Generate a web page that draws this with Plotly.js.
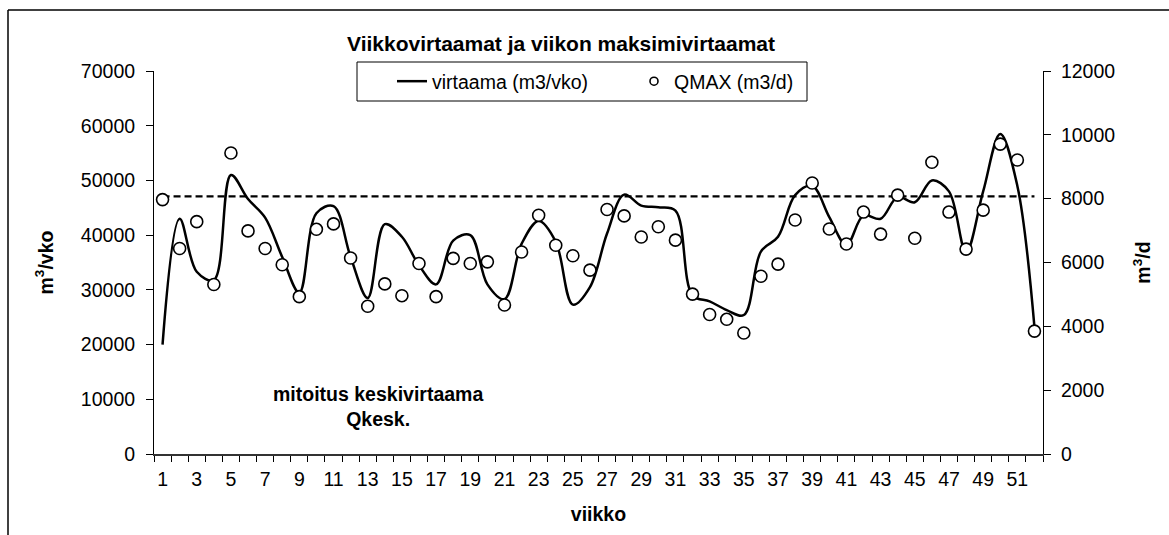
<!DOCTYPE html>
<html>
<head>
<meta charset="utf-8">
<script src="https://cdn.plot.ly/plotly-3.0.1.min.js"></script>
<style>
html, body { margin: 0; padding: 0; background: #ffffff; }
#chart { width: 1169px; height: 535px; }
</style>
</head>
<body>
<div id="chart"></div>
<script>
// ---- data ----
const weeks = [1, 2, 3, 4, 5, 6, 7, 8, 9, 10, 11, 12, 13, 14, 15, 16, 17, 18, 19, 20, 21, 22, 23, 24, 25, 26,
               27, 28, 29, 30, 31, 32, 33, 34, 35, 36, 37, 38, 39, 40, 41, 42, 43, 44, 45, 46, 47, 48, 49, 50, 51, 52];

// weekly flow, m3/vko (left axis)
const virtaama = [20000, 43000, 33300, 31800, 51000, 46600, 43200, 36000, 29500, 44000, 45300, 36000, 28500,
                  42000, 39700, 34500, 31000, 39000, 40000, 31000, 28300, 38400, 42600, 38800, 27300, 30500,
                  40300, 47400, 45400, 45100, 44500, 29000, 27900, 26300, 25400, 37000, 39700, 47300, 49000,
                  43300, 38200, 43600, 43000, 47000, 46000, 50000, 48000, 36900, 48000, 58500, 49000, 23200];

// weekly maximum flow, m3/d (right axis)
const qmax = [7970, 6440, 7280, 5310, 9430, 6990, 6440, 5930, 4930, 7040, 7210, 6140, 4630,
              5330, 4960, 5970, 4930, 6130, 5970, 6020, 4670, 6330, 7480, 6540, 6210, 5760,
              7660, 7460, 6800, 7120, 6700, 5010, 4370, 4220, 3790, 5570, 5950, 7330, 8490,
              7050, 6580, 7580, 6890, 8110, 6760, 9140, 7580, 6420, 7640, 9710, 9210, 3850];

// design mean flow (Qkesk), m3/vko
const qkesk = 47100;

const xTickWeeks = [1, 3, 5, 7, 9, 11, 13, 15, 17, 19, 21, 23, 25, 27, 29, 31, 33, 35, 37, 39, 41, 43, 45, 47, 49, 51];
const leftTicks = [0, 10000, 20000, 30000, 40000, 50000, 60000, 70000];
const rightTicks = [0, 2000, 4000, 6000, 8000, 10000, 12000];

const chartTitle = 'Viikkovirtaamat ja viikon maksimivirtaamat';
const xTitle = 'viikko';
const yTitle = 'm<sup>3</sup>/vko';
const y2Title = 'm<sup>3</sup>/d';
const seriesNames = ['virtaama (m3/vko)', 'QMAX (m3/d)'];
const noteText = 'mitoitus keskivirtaama<br>Qkesk.';

// ---- geometry helpers (pixels -> paper) ----
const W = 1169, H = 535;
const PL = 154, PR = 1043, PT = 71, PB = 454;
const px2x = p => (p - PL) / (PR - PL);
const px2y = p => (PB - p) / (PB - PT);

const FONT = 'Arial, "Liberation Sans", sans-serif';

const weekBoundaries = [weeks[0] - 0.5].concat(weeks.map(w => w + 0.5));

const traces = [
  {
    x: [weeks[0], weeks[weeks.length - 1]],
    y: [qkesk, qkesk],
    type: 'scatter',
    mode: 'lines',
    line: { color: '#000000', width: 2.2, dash: '7px,4px' },
    showlegend: false,
    hoverinfo: 'skip',
    xaxis: 'x', yaxis: 'y'
  },
  {
    x: weeks,
    y: virtaama,
    type: 'scatter',
    mode: 'lines',
    name: seriesNames[0],
    line: { color: '#000000', width: 2.5, shape: 'spline', smoothing: 1 },
    xaxis: 'x', yaxis: 'y'
  },
  {
    x: weeks,
    y: qmax,
    type: 'scatter',
    mode: 'markers',
    name: seriesNames[1],
    showlegend: false,
    marker: { symbol: 'circle', size: 12, color: '#ffffff', line: { color: '#000000', width: 1.6 } },
    xaxis: 'x', yaxis: 'y2'
  },
  {
    // legend swatch only (smaller marker, like the original legend)
    x: [null],
    y: [null],
    type: 'scatter',
    mode: 'markers',
    name: seriesNames[1],
    marker: { symbol: 'circle', size: 8, color: '#ffffff', line: { color: '#000000', width: 1.6 } },
    xaxis: 'x', yaxis: 'y2',
    hoverinfo: 'skip'
  }
];

const layout = {
  width: W,
  height: H,
  margin: { l: PL, r: W - PR, t: PT, b: H - PB, pad: 0 },
  paper_bgcolor: '#ffffff',
  plot_bgcolor: '#ffffff',
  font: { family: FONT, size: 19.5, color: '#000000' },
  showlegend: true,
  title: {
    text: '<b>' + chartTitle + '</b>',
    font: { family: FONT, size: 21, color: '#000000' },
    xref: 'container', x: 561 / W, xanchor: 'center',
    yref: 'container', y: 1 - 44 / H, yanchor: 'middle'
  },
  legend: {
    orientation: 'h',
    x: px2x(392), y: px2y(62), xanchor: 'left', yanchor: 'top',
    bgcolor: 'rgba(0,0,0,0)',
    bordercolor: 'rgba(0,0,0,0)',
    borderwidth: 0,
    font: { family: FONT, size: 19.5, color: '#000000' },
    entrywidth: 197,
    entrywidthmode: 'pixels'
  },
  xaxis: {
    range: [weeks[0] - 0.5, weeks[weeks.length - 1] + 0.5],
    tickmode: 'array',
    tickvals: xTickWeeks,
    ticktext: xTickWeeks.map(String),
    ticks: '',
    ticklen: 0,
    ticklabelstandoff: 7,
    tickfont: { family: FONT, size: 19.5, color: '#000000' },
    showgrid: false,
    zeroline: false,
    showline: true,
    linecolor: '#333333',
    linewidth: 1.5,
    minor: { tickmode: 'array', tickvals: weekBoundaries, ticks: 'outside', ticklen: 6, tickwidth: 1, tickcolor: '#000000', showgrid: false },
    title: { text: '<b>' + xTitle + '</b>', font: { family: FONT, size: 19.5, color: '#000000' }, standoff: 18 },
    fixedrange: true
  },
  yaxis: {
    range: [leftTicks[0], leftTicks[leftTicks.length - 1]],
    tickmode: 'array',
    tickvals: leftTicks,
    ticktext: leftTicks.map(String),
    ticks: 'outside',
    ticklen: 7,
    tickwidth: 1,
    tickcolor: '#000000',
    ticklabelstandoff: 7,
    tickfont: { family: FONT, size: 19.5, color: '#000000' },
    showgrid: false,
    zeroline: false,
    showline: true,
    linecolor: '#000000',
    linewidth: 1,
    title: { text: '<b>' + yTitle + '</b>', font: { family: FONT, size: 19.5, color: '#000000' }, standoff: 22 },
    fixedrange: true
  },
  yaxis2: {
    range: [rightTicks[0], rightTicks[rightTicks.length - 1]],
    overlaying: 'y',
    side: 'right',
    anchor: 'x',
    tickmode: 'array',
    tickvals: rightTicks,
    ticktext: rightTicks.map(String),
    ticks: 'outside',
    ticklen: 7,
    tickwidth: 1,
    tickcolor: '#000000',
    ticklabelstandoff: 6,
    tickfont: { family: FONT, size: 19.5, color: '#000000' },
    showgrid: false,
    zeroline: false,
    showline: true,
    linecolor: '#000000',
    linewidth: 1,
    title: { text: '<b>' + y2Title + '</b>', font: { family: FONT, size: 19.5, color: '#000000' }, standoff: 22 },
    fixedrange: true
  },
  annotations: [
    {
      text: '<b>' + noteText + '</b>',
      xref: 'paper', yref: 'paper',
      x: px2x(378), y: px2y(406),
      xanchor: 'center', yanchor: 'middle',
      showarrow: false,
      align: 'center',
      font: { family: FONT, size: 19.5, color: '#000000' }
    }
  ],
  shapes: [
    // outer chart frame (top and left edges visible)
    { type: 'line', xref: 'paper', yref: 'paper', x0: px2x(8), x1: px2x(1169), y0: px2y(10), y1: px2y(10),
      line: { color: '#000000', width: 1.5 } },
    { type: 'line', xref: 'paper', yref: 'paper', x0: px2x(8), x1: px2x(8), y0: px2y(10), y1: px2y(535),
      line: { color: '#000000', width: 1.5 } },
    // legend box
    { type: 'rect', xref: 'paper', yref: 'paper', layer: 'below',
      x0: px2x(357), x1: px2x(807), y0: px2y(62), y1: px2y(101),
      fillcolor: '#ffffff', line: { color: '#000000', width: 1 } }
  ]
};

Plotly.newPlot('chart', traces, layout, { displayModeBar: false, staticPlot: true });
</script>
</body>
</html>
